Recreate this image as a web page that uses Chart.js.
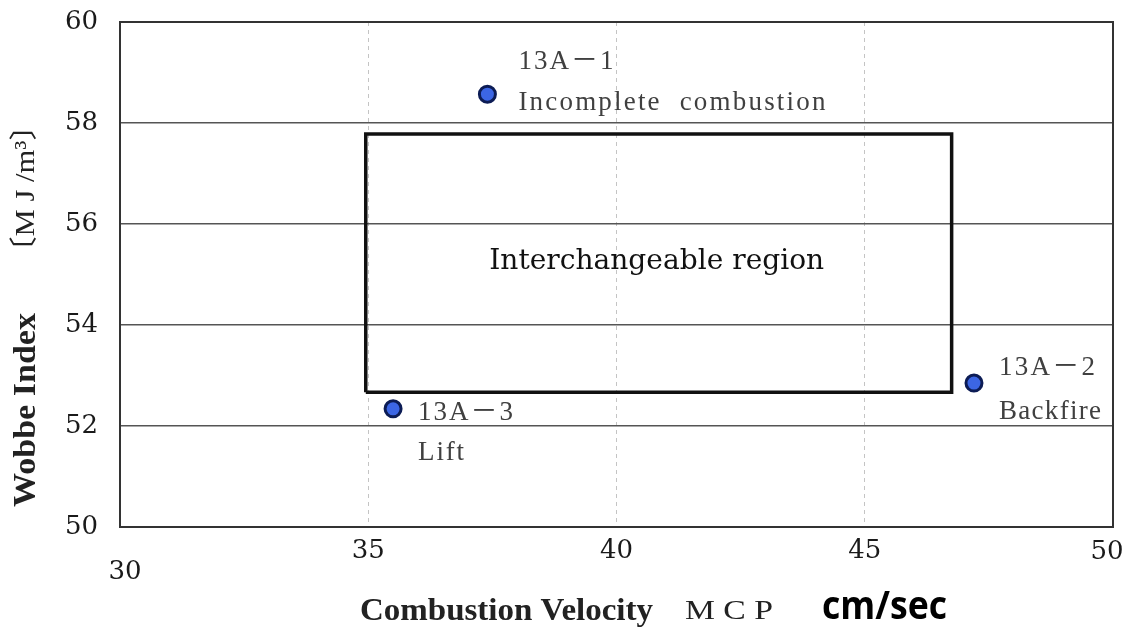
<!DOCTYPE html>
<html>
<head>
<meta charset="utf-8">
<script src="https://cdn.jsdelivr.net/npm/chart.js@4.4.0/dist/chart.umd.min.js"></script>
<style>
  html, body { margin: 0; padding: 0; background: #fff; }
  canvas { display: block; }
</style>
</head>
<body>
<canvas id="wobbeChart" width="1126" height="629"></canvas>
<script>
// Gas samples: combustion velocity (MCP) against Wobbe index
var sampleNames = ['13A\uFF0D1', '13A\uFF0D2', '13A\uFF0D3'];
var sampleNotes = ['Incomplete  combustion', 'Backfire', 'Lift'];
var sampleMcp = [37.4, 47.2, 35.5];
var sampleWobbe = [58.57, 52.85, 52.34];

// Corners of the interchangeable region (closed outline)
var regionMcp = [34.95, 46.75, 46.75, 34.95, 34.95];
var regionWobbe = [52.67, 52.67, 57.78, 57.78, 52.67];
var regionLabel = 'Interchangeable region';

// Axis ticks
var xTicks = [30, 35, 40, 45, 50];
var yTicks = [50, 52, 54, 56, 58, 60];

var tickFont = { family: 'DejaVu Serif', size: 26 };

// where each sample's two text lines sit (relative to its point) and how wide they run
var noteOffsets = [
    { dx: 31, dy1: -32, dy2: 9, w1: 95, w2: 307 },
    { dx: 25, dy1: -15, dy2: 29, w1: 96, w2: 102 },
    { dx: 25, dy1: 4, dy2: 44, w1: 95, w2: 46 }
];

// draw text squeezed/stretched to a given width
function fitText(ctx, text, x, y, width, font, align) {
    ctx.save();
    ctx.font = font;
    var w = ctx.measureText(text).width;
    ctx.translate(x, y);
    ctx.scale(width / w, 1);
    ctx.textAlign = align || 'left';
    ctx.fillText(text, 0, 0);
    ctx.restore();
}

// draw text with letter spacing so it runs a given width (monospace look)
function spacedText(ctx, text, x, y, width, font) {
    ctx.save();
    ctx.font = font;
    ctx.textAlign = 'left';
    var w = ctx.measureText(text).width;
    var n = text.length - 1;
    var gap = n > 0 ? (width - w) / n : 0;
    var cx = x;
    for (var i = 0; i < text.length; i++) {
        var ch = text[i];
        ctx.fillText(ch, cx, y);
        cx += ctx.measureText(ch).width + gap;
    }
    ctx.restore();
}

var decorations = {
    id: 'decorations',
    beforeDatasetsDraw: function(chart) {
        var ctx = chart.ctx, a = chart.chartArea;
        ctx.save();
        ctx.strokeStyle = '#333';
        ctx.lineWidth = 2;
        ctx.strokeRect(a.left, a.top, a.right - a.left, a.bottom - a.top);
        ctx.restore();
    },
    afterDatasetsDraw: function(chart) {
        var ctx = chart.ctx;
        var xs = chart.scales.x, ys = chart.scales.y;

        ctx.save();
        ctx.textBaseline = 'middle';

        // region caption in the middle of the box
        ctx.fillStyle = '#111';
        var cx = xs.getPixelForValue((regionMcp[0] + regionMcp[1]) / 2);
        fitText(ctx, regionLabel, cx - 2, ys.getPixelForValue(55.25), 335, '28px "DejaVu Serif"', 'center');

        // sample labels
        ctx.fillStyle = '#404040';
        for (var i = 0; i < sampleNames.length; i++) {
            var px = xs.getPixelForValue(sampleMcp[i]);
            var py = ys.getPixelForValue(sampleWobbe[i]);
            var o = noteOffsets[i];
            spacedText(ctx, sampleNames[i], px + o.dx, py + o.dy1, o.w1, '27px "Liberation Serif", "Noto Sans CJK JP"');
            spacedText(ctx, sampleNotes[i], px + o.dx, py + o.dy2, o.w2, '27px "Liberation Serif"');
        }
        ctx.restore();
    },
    afterDraw: function(chart) {
        var ctx = chart.ctx;
        var xs = chart.scales.x;
        ctx.save();
        ctx.textBaseline = 'middle';
        ctx.fillStyle = '#1a1a1a';

        // the end labels of the x axis sit apart from the others
        ctx.font = '26px "DejaVu Serif"';
        ctx.textAlign = 'center';
        ctx.fillText(String(xTicks[0]), xs.getPixelForValue(xTicks[0]) + 5, 572);
        var last = xTicks[xTicks.length - 1];
        ctx.fillText(String(last), xs.getPixelForValue(last) - 6, 552);

        // x axis title
        ctx.fillStyle = '#222';
        fitText(ctx, 'Combustion Velocity', 360, 612, 293, 'bold 32px "Liberation Serif"');
        fitText(ctx, 'M C P', 685, 612, 88, '28px "Liberation Serif"');
        ctx.fillStyle = '#000';
        fitText(ctx, 'cm/sec', 822, 608, 125, 'bold 40px "Open Sans"');

        // y axis title (rotated)
        ctx.save();
        ctx.translate(27, 0);
        ctx.rotate(-Math.PI / 2);
        ctx.fillStyle = '#222';
        fitText(ctx, 'Wobbe Index', -507, 0, 194, 'bold 32px "Liberation Serif"');
        fitText(ctx, '\u3014M J /m\u00B3\u3015', -267, 0, 157, '28px "Liberation Serif", "Noto Sans CJK JP"');
        ctx.restore();

        ctx.restore();
    }
};

var ctx = document.getElementById('wobbeChart').getContext('2d');
var wobbeChart = new Chart(ctx, {
    type: 'scatter',
    data: {
        datasets: [{
            label: 'Samples',
            data: sampleMcp.map(function(v, i) { return { x: v, y: sampleWobbe[i] }; }),
            pointRadius: 8,
            pointHoverRadius: 8,
            backgroundColor: '#3c66e4',
            borderColor: '#0c1c55',
            borderWidth: 3,
            order: 0
        }, {
            type: 'line',
            label: 'Region',
            data: regionMcp.map(function(v, i) { return { x: v, y: regionWobbe[i] }; }),
            showLine: true,
            fill: false,
            tension: 0,
            borderColor: '#111',
            borderWidth: 3.5,
            pointRadius: 0,
            order: 1
        }]
    },
    options: {
        responsive: false,
        animation: false,
        layout: { padding: { top: 22, right: 13, bottom: 0, left: 0 } },
        plugins: {
            legend: { display: false },
            tooltip: { enabled: false }
        },
        scales: {
            x: {
                type: 'linear',
                min: 30,
                max: 50,
                afterBuildTicks: function(scale) {
                    scale.ticks = xTicks.map(function(v) { return { value: v }; });
                },
                afterFit: function(scale) {
                    scale.height = 102;
                    scale.paddingLeft = 0;
                    scale.paddingRight = 0;
                },
                ticks: {
                    font: tickFont,
                    color: '#1a1a1a',
                    padding: 9,
                    maxRotation: 0,
                    autoSkip: false,
                    callback: function(v) {
                        return (v === xTicks[0] || v === xTicks[xTicks.length - 1]) ? '' : String(v);
                    }
                },
                grid: {
                    color: '#c4c4c4',
                    lineWidth: 1,
                    drawTicks: false
                },
                border: { display: false, dash: [4, 4] }
            },
            y: {
                type: 'linear',
                min: 50,
                max: 60,
                afterBuildTicks: function(scale) {
                    scale.ticks = yTicks.map(function(v) { return { value: v }; });
                },
                afterFit: function(scale) {
                    scale.width = 120;
                    scale.paddingTop = 0;
                    scale.paddingBottom = 0;
                },
                ticks: {
                    font: tickFont,
                    color: '#1a1a1a',
                    padding: 22
                },
                grid: {
                    color: '#555',
                    lineWidth: 1.5,
                    drawTicks: false
                },
                border: { display: false }
            }
        }
    },
    plugins: [decorations]
});
</script>
</body>
</html>
